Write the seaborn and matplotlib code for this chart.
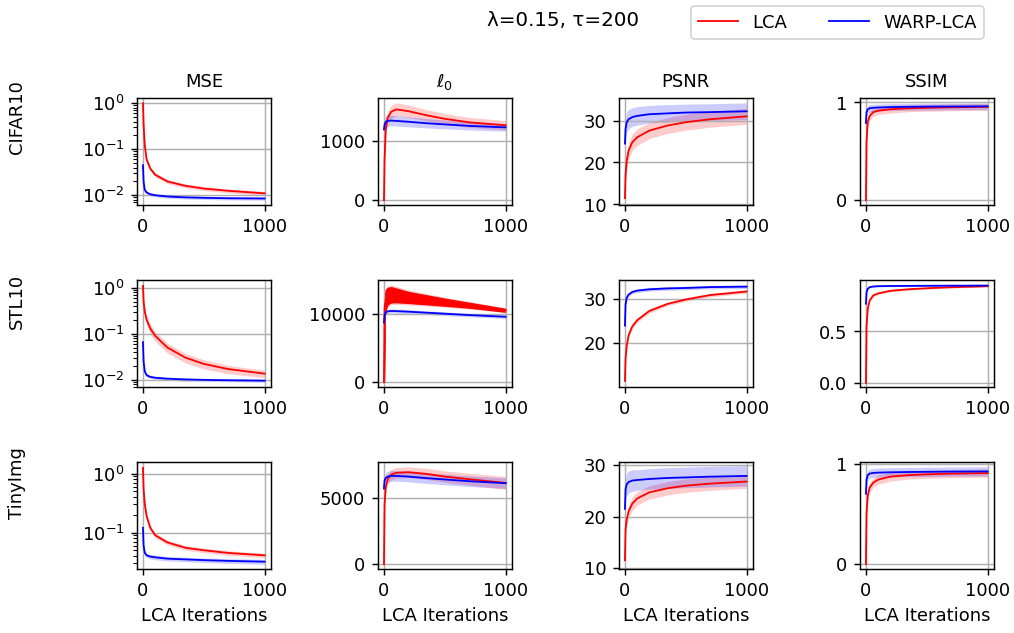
import numpy as np
import pandas as pd
import matplotlib.pyplot as plt
import seaborn as sns

iters = [0, 5, 15, 30, 60, 100, 200, 350, 500, 700, 1000]

datasets = ['CIFAR10', 'STL10', 'TinyImg']
metrics = ['MSE', r'$\ell_0$', 'PSNR', 'SSIM']

# CIFAR10
cifar_mse_lca = [1.0, 0.35, 0.12, 0.06, 0.038, 0.028, 0.02, 0.016, 0.014, 0.0125, 0.011]
cifar_mse_lca_sd = [0.02, 0.03, 0.012, 0.006, 0.004, 0.003, 0.002, 0.0016, 0.0014, 0.0012, 0.0011]
cifar_mse_warp = [0.045, 0.02, 0.013, 0.0115, 0.0105, 0.01, 0.0094, 0.009, 0.0088, 0.0086, 0.0085]
cifar_mse_warp_sd = [0.004, 0.002, 0.0012, 0.001, 0.0009, 0.0008, 0.0008, 0.0007, 0.0007, 0.0007, 0.0007]
cifar_l0_lca = [0, 700, 1200, 1400, 1500, 1540, 1510, 1440, 1380, 1320, 1270]
cifar_l0_lca_sd = [0, 60, 90, 100, 110, 110, 105, 95, 90, 85, 80]
cifar_l0_warp = [1200, 1280, 1330, 1345, 1350, 1345, 1330, 1305, 1285, 1260, 1235]
cifar_l0_warp_sd = [80, 85, 90, 90, 90, 88, 85, 80, 75, 70, 65]
cifar_psnr_lca = [11.5, 17, 20.5, 22.8, 24.8, 26.0, 27.6, 28.8, 29.6, 30.3, 31.0]
cifar_psnr_lca_sd = [0.5, 1.5, 2.0, 2.0, 2.0, 2.0, 1.9, 1.9, 1.9, 1.9, 1.9]
cifar_psnr_warp = [24.5, 28.0, 29.6, 30.3, 30.8, 31.1, 31.5, 31.7, 31.9, 32.0, 32.2]
cifar_psnr_warp_sd = [1.5, 2.5, 2.4, 2.3, 2.2, 2.2, 2.1, 2.1, 2.0, 2.0, 2.0]
cifar_ssim_lca = [0.0, 0.6, 0.8, 0.86, 0.9, 0.915, 0.93, 0.94, 0.945, 0.95, 0.955]
cifar_ssim_lca_sd = [0, 0.05, 0.05, 0.045, 0.04, 0.04, 0.04, 0.035, 0.035, 0.035, 0.035]
cifar_ssim_warp = [0.79, 0.9, 0.93, 0.94, 0.945, 0.948, 0.952, 0.955, 0.957, 0.958, 0.96]
cifar_ssim_warp_sd = [0.04, 0.04, 0.04, 0.04, 0.035, 0.035, 0.035, 0.035, 0.035, 0.035, 0.035]

# STL10
stl_mse_lca = [1.1, 0.5, 0.3, 0.2, 0.13, 0.09, 0.05, 0.03, 0.022, 0.017, 0.0135]
stl_mse_lca_sd = [0.05, 0.08, 0.06, 0.045, 0.03, 0.022, 0.012, 0.007, 0.005, 0.0035, 0.0025]
stl_mse_warp = [0.065, 0.025, 0.015, 0.0125, 0.0115, 0.011, 0.0105, 0.0101, 0.0099, 0.0097, 0.0095]
stl_mse_warp_sd = [0.005, 0.002, 0.0012, 0.001, 0.0009, 0.0008, 0.0008, 0.0008, 0.0007, 0.0007, 0.0007]
stl_l0_lca = [0, 11000, 12200, 12700, 12900, 12800, 12500, 12150, 11800, 11350, 10600]
stl_l0_lca_sd = [0, 1800, 1700, 1500, 1450, 1350, 1100, 900, 750, 550, 350]
# LCA l0 on STL10 oscillates between these envelopes
stl_l0_lca_hi = [0, 12500, 13600, 13900, 14000, 13800, 13300, 12800, 12300, 11700, 10800]
stl_l0_lca_lo = [0, 9500, 10800, 11500, 11800, 11800, 11700, 11500, 11300, 11000, 10400]
stl_l0_warp = [8800, 9800, 10300, 10450, 10500, 10480, 10400, 10250, 10100, 9900, 9650]
stl_l0_warp_sd = [300, 300, 300, 300, 300, 300, 300, 280, 270, 260, 250]
stl_psnr_lca = [11.5, 16.5, 19.5, 21.8, 23.8, 25.2, 27.3, 28.9, 29.9, 30.9, 31.7]
stl_psnr_lca_sd = [0.3, 0.5, 0.5, 0.5, 0.5, 0.5, 0.5, 0.4, 0.4, 0.4, 0.4]
stl_psnr_warp = [24.0, 28.8, 30.3, 31.0, 31.6, 31.9, 32.2, 32.4, 32.5, 32.7, 32.8]
stl_psnr_warp_sd = [0.3, 0.4, 0.4, 0.4, 0.4, 0.4, 0.4, 0.4, 0.4, 0.4, 0.4]
stl_ssim_lca = [0.0, 0.55, 0.72, 0.8, 0.85, 0.87, 0.895, 0.91, 0.92, 0.93, 0.94]
stl_ssim_lca_sd = [0, 0.015, 0.015, 0.012, 0.012, 0.01, 0.01, 0.008, 0.008, 0.008, 0.008]
stl_ssim_warp = [0.77, 0.88, 0.915, 0.93, 0.937, 0.94, 0.942, 0.943, 0.944, 0.945, 0.946]
stl_ssim_warp_sd = [0.008, 0.008, 0.008, 0.007, 0.007, 0.007, 0.007, 0.007, 0.007, 0.007, 0.007]

# TinyImageNet
tiny_mse_lca = [1.25, 0.55, 0.3, 0.19, 0.12, 0.09, 0.068, 0.055, 0.05, 0.045, 0.041]
tiny_mse_lca_sd = [0.05, 0.06, 0.035, 0.02, 0.012, 0.009, 0.006, 0.005, 0.0045, 0.004, 0.0035]
tiny_mse_warp = [0.12, 0.06, 0.045, 0.041, 0.039, 0.038, 0.036, 0.035, 0.034, 0.033, 0.032]
tiny_mse_warp_sd = [0.01, 0.005, 0.004, 0.0035, 0.0035, 0.0035, 0.003, 0.003, 0.003, 0.003, 0.003]
tiny_l0_lca = [0, 4500, 5800, 6400, 6750, 6880, 6930, 6800, 6600, 6400, 6120]
tiny_l0_lca_sd = [0, 300, 350, 380, 400, 400, 400, 420, 430, 450, 480]
tiny_l0_warp = [5700, 6300, 6500, 6600, 6650, 6650, 6600, 6480, 6380, 6250, 6100]
tiny_l0_warp_sd = [300, 350, 380, 400, 400, 400, 400, 400, 400, 400, 400]
tiny_psnr_lca = [11.5, 17.5, 19.5, 21.0, 22.5, 23.5, 24.7, 25.5, 26.0, 26.4, 26.8]
tiny_psnr_lca_sd = [0.5, 1.2, 1.3, 1.3, 1.3, 1.3, 1.3, 1.3, 1.3, 1.3, 1.3]
tiny_psnr_warp = [21.5, 25.3, 26.3, 26.7, 27.0, 27.1, 27.3, 27.5, 27.6, 27.75, 27.9]
tiny_psnr_warp_sd = [1.5, 2.2, 2.2, 2.1, 2.1, 2.0, 2.0, 2.0, 2.0, 2.0, 2.0]
tiny_ssim_lca = [0.0, 0.5, 0.68, 0.76, 0.81, 0.84, 0.87, 0.885, 0.893, 0.9, 0.905]
tiny_ssim_lca_sd = [0, 0.05, 0.05, 0.05, 0.045, 0.045, 0.045, 0.04, 0.04, 0.04, 0.04]
tiny_ssim_warp = [0.7, 0.84, 0.885, 0.9, 0.907, 0.91, 0.913, 0.916, 0.918, 0.92, 0.922]
tiny_ssim_warp_sd = [0.05, 0.05, 0.045, 0.045, 0.045, 0.045, 0.045, 0.045, 0.045, 0.045, 0.045]

grid = [
    [(cifar_mse_lca, cifar_mse_lca_sd, cifar_mse_warp, cifar_mse_warp_sd),
     (cifar_l0_lca, cifar_l0_lca_sd, cifar_l0_warp, cifar_l0_warp_sd),
     (cifar_psnr_lca, cifar_psnr_lca_sd, cifar_psnr_warp, cifar_psnr_warp_sd),
     (cifar_ssim_lca, cifar_ssim_lca_sd, cifar_ssim_warp, cifar_ssim_warp_sd)],
    [(stl_mse_lca, stl_mse_lca_sd, stl_mse_warp, stl_mse_warp_sd),
     (stl_l0_lca, stl_l0_lca_sd, stl_l0_warp, stl_l0_warp_sd),
     (stl_psnr_lca, stl_psnr_lca_sd, stl_psnr_warp, stl_psnr_warp_sd),
     (stl_ssim_lca, stl_ssim_lca_sd, stl_ssim_warp, stl_ssim_warp_sd)],
    [(tiny_mse_lca, tiny_mse_lca_sd, tiny_mse_warp, tiny_mse_warp_sd),
     (tiny_l0_lca, tiny_l0_lca_sd, tiny_l0_warp, tiny_l0_warp_sd),
     (tiny_psnr_lca, tiny_psnr_lca_sd, tiny_psnr_warp, tiny_psnr_warp_sd),
     (tiny_ssim_lca, tiny_ssim_lca_sd, tiny_ssim_warp, tiny_ssim_warp_sd)],
]

plt.rcParams['font.family'] = ['DejaVu Sans']
fig, axes = plt.subplots(3, 4, figsize=(7.8, 4.87), dpi=130)
fig.subplots_adjust(left=0.135, right=0.980, top=0.845, bottom=0.101,
                    wspace=0.80, hspace=0.70)


def draw(ax, mean, sd, color, label):
    df = pd.DataFrame({'iter': iters, 'val': mean})
    sns.lineplot(data=df, x='iter', y='val', color=color, lw=1, ax=ax, label=label)
    m = np.array(mean)
    s = np.array(sd)
    ax.fill_between(iters, m - s, m + s, color=color, alpha=0.2, lw=0)


for r in range(3):
    for c in range(4):
        ax = axes[r, c]
        lca, lca_sd, warp, warp_sd = grid[r][c]
        if r == 1 and c == 1:
            ax.fill_between(iters, stl_l0_lca_lo, stl_l0_lca_hi, color='red', lw=0.8)
        draw(ax, lca, lca_sd, 'red', 'LCA')
        draw(ax, warp, warp_sd, 'blue', 'WARP-LCA')
        if c == 0:
            ax.set_yscale('log')
        ax.set_xticks([0, 1000])
        ax.grid(True)
        ax.set_ylabel('')
        ax.set_xlabel('LCA Iterations' if r == 2 else '')
        ax.get_legend().remove()
        if r == 0:
            ax.set_title(metrics[c], fontsize=10)

# a few axes where the reference shows other ticks
axes[1, 3].set_yticks([0.0, 0.5])
axes[1, 3].set_ylim(-0.04, 1.0)
axes[2, 2].set_ylim(9.8, 30.6)
axes[2, 2].set_yticks([10, 20, 30])

# row labels
for name, y in zip(datasets, [0.815, 0.524, 0.237]):
    fig.text(0.017, y, name, rotation=90, ha='center', va='center', fontsize=10)

fig.suptitle('λ=0.15, τ=200', x=0.555, y=0.968, va='center', fontsize=11)
handles, labels = axes[0, 0].get_legend_handles_labels()
fig.legend(handles, labels, loc='upper right', bbox_to_anchor=(0.979, 1.004),
           ncol=2, fontsize=10, columnspacing=2.3, handlelength=2.2)

fig.savefig('out.png', dpi=130)
